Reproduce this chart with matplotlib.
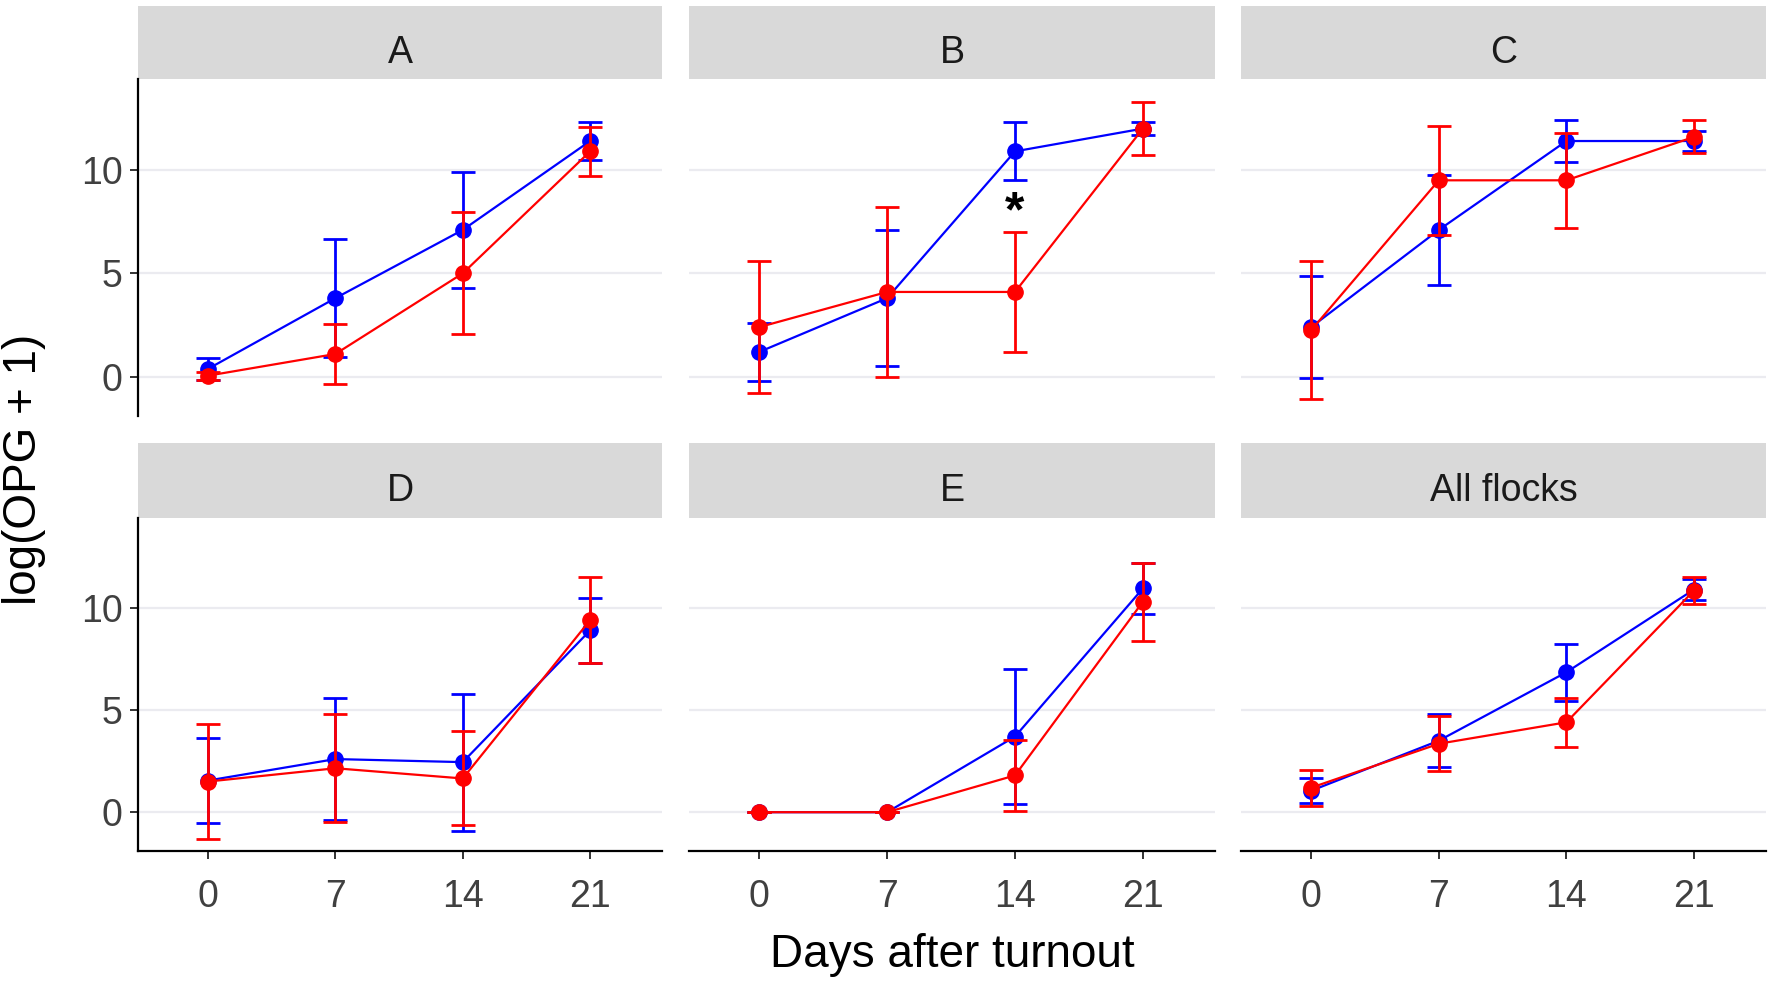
import matplotlib
matplotlib.use('Agg')
from matplotlib import pyplot as plt

plt.rcParams['font.family'] = ['Liberation Sans', 'DejaVu Sans']

# data
panels = ['A', 'B', 'C', 'D', 'E', 'All flocks']
days = [0, 7, 14, 21]

blue_mean = [[0.38, 3.8, 7.1, 11.4],
             [1.2, 3.8, 10.9, 12.0],
             [2.4, 7.1, 11.4, 11.4],
             [1.55, 2.6, 2.45, 8.9],
             [0.0, 0.0, 3.7, 10.95],
             [1.05, 3.5, 6.85, 10.9]]
blue_err = [[0.52, 2.85, 2.8, 0.9],
            [1.4, 3.3, 1.4, 0.3],
            [2.45, 2.65, 1.0, 0.5],
            [2.1, 3.0, 3.35, 1.6],
            [0.0, 0.0, 3.3, 1.25],
            [0.62, 1.3, 1.4, 0.5]]
red_mean = [[0.05, 1.1, 5.0, 10.9],
            [2.4, 4.1, 4.1, 12.0],
            [2.25, 9.5, 9.5, 11.6],
            [1.5, 2.15, 1.65, 9.4],
            [0.0, 0.0, 1.8, 10.3],
            [1.2, 3.35, 4.4, 10.85]]
red_err = [[0.2, 1.45, 2.95, 1.2],
           [3.2, 4.1, 2.9, 1.3],
           [3.35, 2.65, 2.3, 0.8],
           [2.8, 2.65, 2.3, 2.1],
           [0.0, 0.0, 1.75, 1.9],
           [0.88, 1.35, 1.2, 0.65]]

W, H = 1772, 983
fig = plt.figure(figsize=(W / 100, H / 100), dpi=100)


def box(l, r, top, bottom):
    return [l / W, 1 - bottom / H, (r - l) / W, (bottom - top) / H]


cols = [(138, 662), (689, 1215), (1241, 1766)]
rows = [(6, 79, 416), (443, 518, 851)]

for i, name in enumerate(panels):
    r, c = divmod(i, 3)
    l, rr = cols[c]
    s_top, p_top, p_bot = rows[r]

    st = fig.add_axes(box(l, rr, s_top, p_top))
    st.set_facecolor('#D9D9D9')
    for sp in st.spines.values():
        sp.set_visible(False)
    st.set_xticks([])
    st.set_yticks([])
    st.text(0.5, 0.36, name, ha='center', va='center', fontsize=27,
            color='#1A1A1A', transform=st.transAxes)

    ax = fig.add_axes(box(l, rr, p_top, p_bot))
    ax.set_xlim(-3.85, 24.95)
    ax.set_ylim(-1.9, 14.4)
    ax.set_xticks(days)
    ax.set_yticks([0, 5, 10])
    ax.yaxis.grid(True, color='#EBEBF0', lw=1.6)
    ax.set_axisbelow(True)
    ax.spines['top'].set_visible(False)
    ax.spines['right'].set_visible(False)
    ax.spines['left'].set_visible(c == 0)
    ax.spines['bottom'].set_visible(r == 1)
    ax.spines['left'].set_linewidth(1.6)
    ax.spines['bottom'].set_linewidth(1.6)
    ax.tick_params(axis='both', length=6, width=1.4, color='#333333',
                   labelsize=27, labelcolor='#404040', pad=5)
    ax.tick_params(axis='y', left=(c == 0), labelleft=(c == 0))
    ax.tick_params(axis='x', bottom=(r == 1), labelbottom=(r == 1), pad=14)

    ax.errorbar(days, blue_mean[i], yerr=blue_err[i], color='#0000FF',
                lw=1.6, elinewidth=2, capsize=8.5, capthick=2,
                marker='o', markersize=11, zorder=3)
    ax.errorbar(days, red_mean[i], yerr=red_err[i], color='#FF0000',
                lw=1.6, elinewidth=2, capsize=8.5, capthick=2,
                marker='o', markersize=11, zorder=4)

    if name == 'B':
        ax.text(14, 7.9, '*', ha='center', va='center', fontsize=36,
                fontweight='bold', color='black', zorder=5)

fig.text(24 / W, 1 - 469 / H, 'log(OPG + 1)', rotation=90, ha='center',
         va='center', fontsize=33)
fig.text(952 / W, 1 - 955 / H, 'Days after turnout', ha='center',
         va='center', fontsize=33)

fig.savefig('out.png', dpi=100, facecolor='white')
